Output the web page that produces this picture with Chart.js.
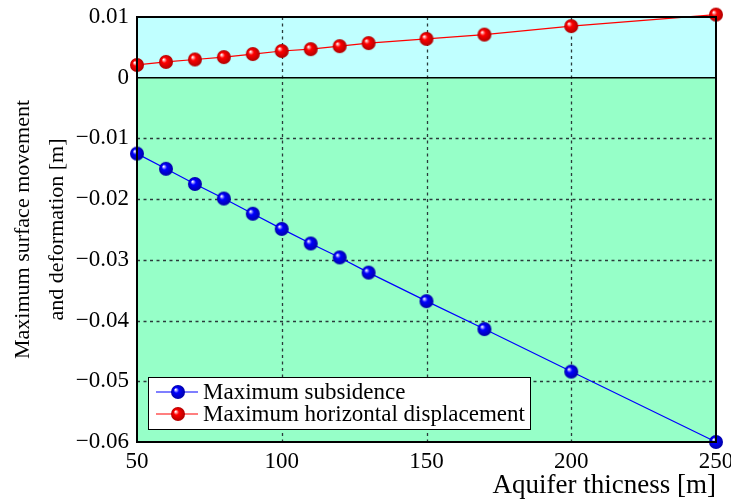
<!DOCTYPE html>
<html>
<head>
    <title>Maximum surface movement vs aquifer thickness</title>
    <style>
        body {margin: 0; background: #ffffff;}
        #chart {display: block;}
    </style>
    <script src="https://cdn.jsdelivr.net/npm/chart.js"></script>
</head>
<body>
    <canvas id="chart" width="731" height="502"></canvas>

<script>
    // values
    var thickness = [50, 60, 70, 80, 90, 100, 110, 120, 130, 150, 170, 200, 250];
    var subsidence = [-0.0125, -0.0150, -0.0175, -0.0199, -0.0224, -0.0249, -0.0273, -0.0296, -0.0321, -0.0368, -0.0414, -0.0484, -0.0600];
    var horizontal = [0.0021, 0.0026, 0.0030, 0.0034, 0.0039, 0.0044, 0.0047, 0.0052, 0.0057, 0.0064, 0.0071, 0.0085, 0.0104];
    var xTicks = [50, 100, 150, 200, 250];
    var yTicks = [0.01, 0, -0.01, -0.02, -0.03, -0.04, -0.05, -0.06];
    var seriesNames = ['Maximum subsidence', 'Maximum horizontal displacement'];

    var serif = "'Liberation Serif', 'Times New Roman', serif";

    // shiny ball marker like the original
    function makeBall(color, dark) {
        var r = 7;
        var c = document.createElement('canvas');
        c.width = c.height = 2 * r + 2;
        var g = c.getContext('2d');
        var cx = r + 1, cy = r + 1;
        var grad = g.createRadialGradient(cx - 2.5, cy - 2.5, 0.3, cx, cy, r);
        grad.addColorStop(0, '#ffffff');
        grad.addColorStop(0.35, color);
        grad.addColorStop(1, dark);
        g.fillStyle = grad;
        g.beginPath();
        g.arc(cx, cy, r, 0, 2 * Math.PI);
        g.fill();
        return c;
    }
    var blueBall = makeBall('#0000ff', '#0000a8');
    var redBall = makeBall('#ff0000', '#b00000');

    function pts(ys) {
        return thickness.map(function(x, i) { return {x: x, y: ys[i]}; });
    }

    // background bands, dashed grid, zero line, frame and legend
    var decor = {
        id: 'decor',
        beforeDatasetsDraw: function(chart) {
            var ctx = chart.ctx, a = chart.chartArea;
            var xs = chart.scales.x, ys = chart.scales.y;
            var y0 = ys.getPixelForValue(0);
            ctx.save();
            ctx.fillStyle = '#c0ffff';
            ctx.fillRect(a.left, a.top, a.right - a.left, y0 - a.top);
            ctx.fillStyle = '#96ffc8';
            ctx.fillRect(a.left, y0, a.right - a.left, a.bottom - y0);

            ctx.strokeStyle = '#2a3a3a';
            ctx.lineWidth = 1.3;
            ctx.setLineDash([3, 3.5]);
            xTicks.slice(1, -1).forEach(function(v) {
                var px = Math.round(xs.getPixelForValue(v)) + 0.5;
                ctx.beginPath(); ctx.moveTo(px, a.top); ctx.lineTo(px, a.bottom); ctx.stroke();
            });
            yTicks.forEach(function(v) {
                if (v === 0 || v === yTicks[0] || v === yTicks[yTicks.length - 1]) return;
                var py = Math.round(ys.getPixelForValue(v)) + 0.5;
                ctx.beginPath(); ctx.moveTo(a.left, py); ctx.lineTo(a.right, py); ctx.stroke();
            });
            ctx.setLineDash([]);
            ctx.strokeStyle = '#000000';
            ctx.lineWidth = 1.5;
            ctx.beginPath(); ctx.moveTo(a.left, y0); ctx.lineTo(a.right, y0); ctx.stroke();
            ctx.restore();
        },
        afterDatasetsDraw: function(chart) {
            var ctx = chart.ctx, a = chart.chartArea;
            ctx.save();
            ctx.strokeStyle = '#000000';
            ctx.lineWidth = 2;
            ctx.strokeRect(a.left, a.top, a.right - a.left, a.bottom - a.top);

            // legend box
            var bx = 148, by = 377, bw = 382, bh = 52;
            ctx.fillStyle = '#ffffff';
            ctx.fillRect(bx, by, bw, bh);
            ctx.strokeStyle = '#000000';
            ctx.lineWidth = 1;
            ctx.strokeRect(bx + 0.5, by + 0.5, bw, bh);
            var rows = [[seriesNames[0], '#0000ff', blueBall, 392], [seriesNames[1], '#ff0000', redBall, 414]];
            ctx.font = '23px ' + serif;
            ctx.textBaseline = 'middle';
            rows.forEach(function(r) {
                ctx.strokeStyle = r[1];
                ctx.lineWidth = 1.2;
                ctx.beginPath(); ctx.moveTo(156, r[3]); ctx.lineTo(198, r[3]); ctx.stroke();
                ctx.drawImage(r[2], 178 - r[2].width / 2, r[3] - r[2].height / 2);
                ctx.fillStyle = '#000000';
                ctx.fillText(r[0], 203, r[3] + 1);
            });
            ctx.restore();
        }
    };

    var ctx = document.getElementById('chart').getContext('2d');
    var chart = new Chart(ctx, {
        type: 'line',
        data: {
            datasets: [
                {
                    label: seriesNames[0],
                    data: pts(subsidence),
                    borderColor: '#0000ff',
                    borderWidth: 1.2,
                    pointStyle: blueBall,
                    clip: false,
                    fill: false
                },
                {
                    label: seriesNames[1],
                    data: pts(horizontal),
                    borderColor: '#ff0000',
                    borderWidth: 1.2,
                    pointStyle: redBall,
                    clip: false,
                    fill: false
                }
            ]
        },
        options: {
            responsive: false,
            animation: false,
            layout: {padding: {top: 17, right: 15, left: 0, bottom: 0}},
            plugins: {
                legend: {display: false},
                tooltip: {enabled: false}
            },
            scales: {
                x: {
                    type: 'linear',
                    min: 50,
                    max: 250,
                    afterBuildTicks: function(s) { s.ticks = xTicks.map(function(v) { return {value: v}; }); },
                    afterFit: function(s) { s.height = 60; s.paddingLeft = 0; s.paddingRight = 0; },
                    grid: {display: false, drawTicks: false},
                    border: {display: false},
                    ticks: {
                        color: '#000000',
                        padding: 6,
                        maxRotation: 0,
                        font: {family: serif, size: 23}
                    },
                    title: {
                        display: true,
                        text: 'Aquifer thicness [m]',
                        align: 'end',
                        color: '#000000',
                        padding: {top: 0, bottom: 0},
                        font: {family: serif, size: 27, lineHeight: 1.2}
                    }
                },
                y: {
                    type: 'linear',
                    min: -0.06,
                    max: 0.01,
                    afterBuildTicks: function(s) { s.ticks = yTicks.map(function(v) { return {value: v}; }); },
                    afterFit: function(s) { s.width = 137; s.paddingTop = 0; s.paddingBottom = 0; },
                    grid: {display: false, drawTicks: false},
                    border: {display: false},
                    ticks: {
                        color: '#000000',
                        padding: 8,
                        font: {family: serif, size: 23},
                        callback: function(v) {
                            if (v === 0) return '0';
                            var s = Math.abs(Math.round(v * 100) / 100).toFixed(2);
                            return v < 0 ? '\u2212' + s : s;
                        }
                    },
                    title: {
                        display: true,
                        text: ['Maximum surface movement', 'and deformation [m]'],
                        color: '#000000',
                        padding: {top: 6, bottom: 0},
                        font: {family: serif, size: 22, lineHeight: 1.55}
                    }
                }
            }
        },
        plugins: [decor]
    });
</script>
</body>
</html>
